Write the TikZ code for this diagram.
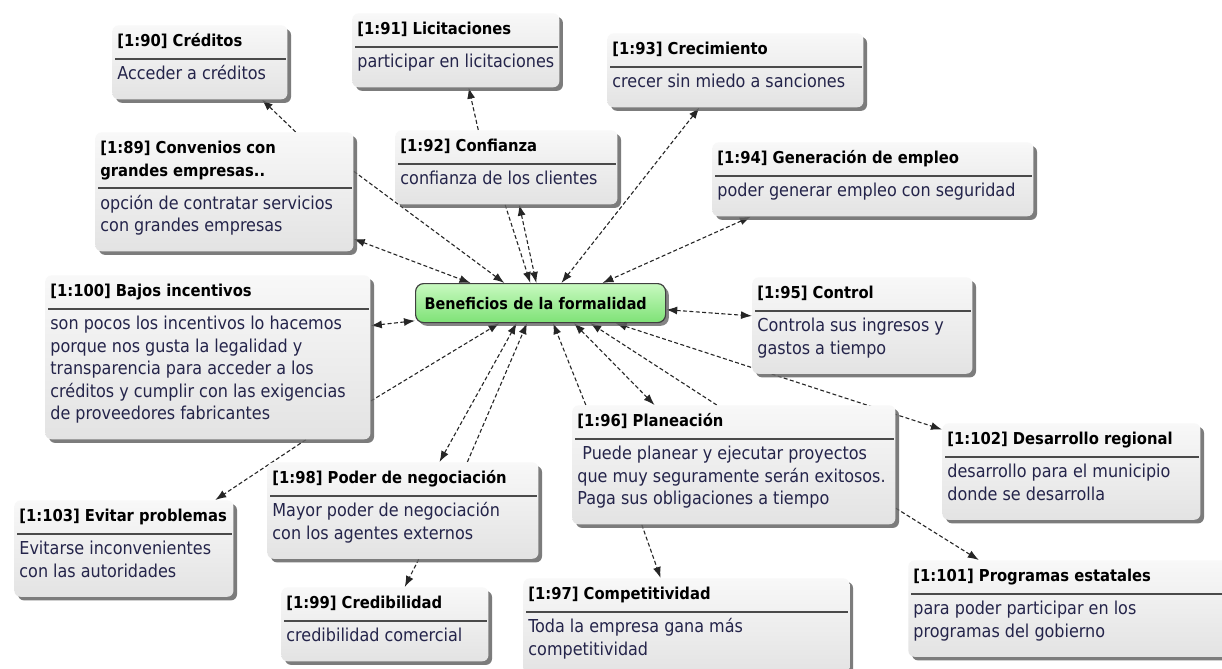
\documentclass[tikz,border=0pt]{standalone}
\usepackage{fontspec}
\setmainfont{DejaVu Sans Condensed}[BoldFont={DejaVu Sans Condensed Bold}]
\usepackage{xcolor}
\usetikzlibrary{shapes.multipart,arrows.meta,shadows,backgrounds}
\definecolor{boxtop}{HTML}{F8F8F8}
\definecolor{boxbot}{HTML}{E3E3E3}
\definecolor{rulegray}{HTML}{4A4A4A}
\definecolor{bodyblue}{HTML}{24244A}
\definecolor{greentop}{HTML}{C8F9C0}
\definecolor{greenbot}{HTML}{7EE276}
\newcommand{\hd}[1]{\strut\textcolor{black}{\bfseries\fontsize{8.2}{11.25}\selectfont #1}\strut}
\newcommand{\bodyend}{\rule[-7pt]{0pt}{7pt}}

\begin{document}
\begin{tikzpicture}[x=0.5pt, y=-0.5pt,
    infobox/.style={rectangle split, rectangle split parts=2, rectangle split part align=left,
        rectangle split draw splits=false, anchor=north west, align=left,
        rounded corners=3pt, top color=boxtop, bottom color=boxbot,
        inner xsep=2.5pt, inner ysep=2.5pt, text=bodyblue,
        font=\fontsize{8.9}{11.25}\selectfont,
        drop shadow={shadow xshift=1.8pt, shadow yshift=-1.8pt, fill=black!60, opacity=0.85}},
    hub/.style={rectangle, anchor=north west, rounded corners=4pt, draw=black!75, line width=0.6pt,
        top color=greentop, bottom color=greenbot, minimum width=125pt, minimum height=19.5pt,
        text width=116pt, inner xsep=4.5pt, align=left,
        font=\bfseries\fontsize{8}{10}\selectfont,
        drop shadow={shadow xshift=1.6pt, shadow yshift=-1.6pt, fill=black!60, opacity=0.8}},
    divider/.style={draw=rulegray, line width=0.9pt, shorten <=1.5pt, shorten >=1pt},
    arrow/.style={draw=black!85, line width=0.55pt, dash pattern=on 2pt off 1.2pt,
        -{Latex[length=5.5pt,width=4pt]}},
    biarrow/.style={arrow, {Latex[length=5.5pt,width=4pt]}-{Latex[length=5.5pt,width=4pt]}}
]
\useasboundingbox (0,0) rectangle (1222,669);

% Central node
\node[hub] (ben) at (415,283) {Beneficios de la formalidad};

% Upper row
\node[infobox, minimum width=87.5pt] (c90) at (112,25)
    {\hd{[1:90] Créditos}\nodepart{two}\strut Acceder a créditos\bodyend};
\node[infobox, minimum width=103pt] (c91) at (352,13)
    {\hd{[1:91] Licitaciones}\nodepart{two}\strut participar en licitaciones\bodyend};
\node[infobox, minimum width=128pt] (c93) at (607,33)
    {\hd{[1:93] Crecimiento}\nodepart{two}\strut crecer sin miedo a sanciones\bodyend};
\node[infobox, minimum width=129pt] (c89) at (95,132)
    {\hd{[1:89] Convenios con}\\\hd{grandes empresas..}\nodepart{two}\strut opción de contratar servicios\\con grandes empresas\bodyend};
\node[infobox, minimum width=111pt] (c92) at (395,130)
    {\hd{[1:92] Confianza}\nodepart{two}\strut confianza de los clientes\bodyend};
\node[infobox, minimum width=160.5pt] (c94) at (712,142)
    {\hd{[1:94] Generación de empleo}\nodepart{two}\strut poder generar empleo con seguridad\bodyend};

% Middle row
\node[infobox, minimum width=110pt] (c95) at (752,277)
    {\hd{[1:95] Control}\nodepart{two}\strut Controla sus ingresos y\\gastos a tiempo\bodyend};
\node[infobox, minimum width=162.5pt] (c100) at (45,275)
    {\hd{[1:100] Bajos incentivos}\nodepart{two}\strut son pocos los incentivos lo hacemos\\porque nos gusta la legalidad y\\transparencia para acceder a los\\créditos y cumplir con las exigencias\\de proveedores fabricantes\bodyend};
\node[infobox, minimum width=161.5pt] (c96) at (572,405)
    {\hd{[1:96] Planeación}\nodepart{two}\strut\ Puede planear y ejecutar proyectos\\que muy seguramente serán exitosos.\\Paga sus obligaciones a tiempo\bodyend};
\node[infobox, minimum width=129pt] (c102) at (942,423)
    {\hd{[1:102] Desarrollo regional}\nodepart{two}\strut desarrollo para el municipio\\donde se desarrolla\bodyend};

% Lower row
\node[infobox, minimum width=135.5pt] (c98) at (267,462)
    {\hd{[1:98] Poder de negociación}\nodepart{two}\strut Mayor poder de negociación\\con los agentes externos\bodyend};
\node[infobox, minimum width=109.5pt] (c103) at (14,500)
    {\hd{[1:103] Evitar problemas}\nodepart{two}\strut Evitarse inconvenientes\\con las autoridades\bodyend};
\node[infobox, minimum width=103.5pt] (c99) at (281,587)
    {\hd{[1:99] Credibilidad}\nodepart{two}\strut credibilidad comercial\bodyend};
\node[infobox, minimum width=163pt] (c97) at (523,578)
    {\hd{[1:97] Competitividad}\nodepart{two}\strut Toda la empresa gana más\\competitividad\bodyend};
\node[infobox, minimum width=170pt] (c101) at (908,560)
    {\hd{[1:101] Programas estatales}\nodepart{two}\strut para poder participar en los\\programas del gobierno\bodyend};

% Dividers
\foreach \n in {c89,c90,c91,c92,c93,c94,c95,c96,c97,c98,c99,c100,c101,c102,c103}
    \draw[divider] (\n.text split west) -- (\n.text split east);

% Relations
\begin{scope}[on background layer]
\fill[white] (0,0) rectangle (1222,669);
\draw[arrow] (c89.40) -- (c90.-31);
\draw[arrow] (c92.127) -- (c91.-71);
\draw[arrow] (c89.9) -- (ben.151);
\draw[biarrow] (c89.-20) -- (ben.164);
\draw[arrow] (c92.-92) -- (ben.117);
\draw[biarrow] (c92.-71) -- (ben.102);
\draw[biarrow] (c93.-134) -- (ben.44);
\draw[biarrow] (c94.-163) -- (ben.18);
\draw[biarrow] (ben.-3) -- (c95.175);
\draw[biarrow] (c100.11) -- (ben.-172);
\draw[arrow] (c100.-15) -- (ben.-154);
\draw[arrow] (c100.-40) -- (c103.28);
\draw[biarrow] (c98.53) -- (ben.-140);
\draw[arrow] (c98.37) -- (ben.-124);
\draw[arrow] (c98.-72) -- (c99.62);
\draw[arrow] (c96.158) -- (ben.-58);
\draw[biarrow] (c96.143) -- (ben.-31);
\draw[arrow] (c96.106) -- (ben.-22);
\draw[biarrow] (ben.-15) -- (c102.162);
\draw[arrow] (c96.-147) -- (c97.118);
\draw[arrow] (c96.-15) -- (c101.154);
\end{scope}

\end{tikzpicture}
\end{document}
